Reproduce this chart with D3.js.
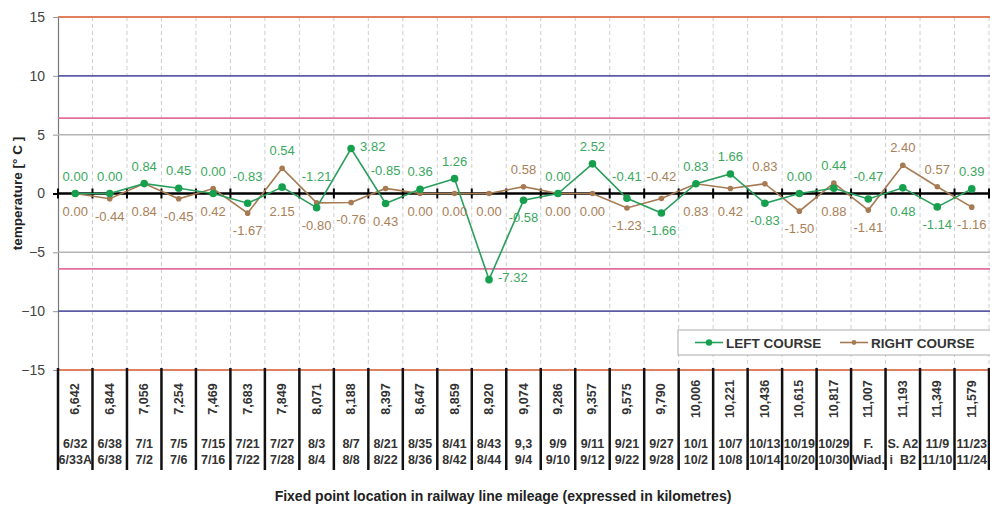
<!DOCTYPE html>
<html>
<head>
<meta charset="utf-8">
<script src="https://cdn.jsdelivr.net/npm/d3@7"></script>
<style>
  body { margin: 0; background: #fff; }
  svg { font-family: "Liberation Sans", Arial, sans-serif; display: block; }
</style>
</head>
<body>
<div id="chart"></div>
<script>
// fixed point mileage (km) and the point names below each one
const mileage = ["6,642", "6,844", "7,056", "7,254", "7,469", "7,683", "7,849", "8,071", "8,188",
    "8,397", "8,647", "8,859", "8,920", "9,074", "9,286", "9,357", "9,575", "9,790", "10,006",
    "10,221", "10,436", "10,615", "10,817", "11,007", "11,193", "11,349", "11,579"];
const pointTop = ["6/32", "6/38", "7/1", "7/5", "7/15", "7/21", "7/27", "8/3", "8/7", "8/21", "8/35",
    "8/41", "8/43", "9,3", "9/9", "9/11", "9/21", "9/27", "10/1", "10/7", "10/13", "10/19", "10/29",
    "F.", "S. A2", "11/9", "11/23"];
const pointBottom = ["6/33A", "6/38", "7/2", "7/6", "7/16", "7/22", "7/28", "8/4", "8/8", "8/22",
    "8/36", "8/42", "8/44", "9/4", "9/10", "9/12", "9/22", "9/28", "10/2", "10/8", "10/14", "10/20",
    "10/30", "Wiad.", "i  B2", "11/10", "11/24"];

// temperature differences [°C]
const leftCourse = [0.00, 0.00, 0.84, 0.45, 0.00, -0.83, 0.54, -1.21, 3.82, -0.85, 0.36, 1.26, -7.32,
    -0.58, 0.00, 2.52, -0.41, -1.66, 0.83, 1.66, -0.83, 0.00, 0.44, -0.47, 0.48, -1.14, 0.39];
const rightCourse = [0.00, -0.44, 0.84, -0.45, 0.42, -1.67, 2.15, -0.80, -0.76, 0.43, 0.00, 0.00, 0.00,
    0.58, 0.00, 0.00, -1.23, -0.42, 0.83, 0.42, 0.83, -1.50, 0.88, -1.41, 2.40, 0.57, -1.16];

// limit lines and y ticks
const limitLevels = [15, 10, 6.4, 5, -5, -6.4, -10, -15];
const yTicks = [15, 10, 5, 0, -5, -10, -15];

const W = 990, H = 511;
const plotLeft = 58, plotRight = 989, plotTop = 17, plotBottom = 370;
const tableBottom = 470;

const green = "#16a04e", greenText = "#3aa860";
const brown = "#a67a52", brownText = "#a98058";
const dark = "#333";

const svg = d3.select("#chart").append("svg")
    .attr("width", W)
    .attr("height", H);

const x = d3.scaleBand()
    .domain(mileage)
    .range([plotLeft, plotRight]);

const y = d3.scaleLinear()
    .domain([-15, 15])
    .range([plotBottom, plotTop]);

const cx = i => x(mileage[i]) + x.bandwidth() / 2;

// column boundaries
const bounds = mileage.map(k => x(k)).concat([plotRight]);

// dashed grid lines at column boundaries
svg.append("g").selectAll("line")
    .data(bounds.slice(1))
    .enter().append("line")
    .attr("x1", d => d).attr("x2", d => d)
    .attr("y1", plotTop).attr("y2", plotBottom)
    .attr("stroke", "#cfcfcf")
    .attr("stroke-dasharray", "4,3")
    .attr("stroke-width", 1);

// y axis
const yAxis = svg.append("g")
    .attr("transform", `translate(${plotLeft},0)`)
    .call(d3.axisLeft(y).tickValues(yTicks).tickSize(5).tickPadding(8));
yAxis.select(".domain").attr("stroke", "#777").attr("stroke-width", 1.2);
yAxis.selectAll(".tick line").attr("stroke", d => d === 0 ? "#000" : "#999").attr("stroke-width", d => d === 0 ? 2 : 1);
yAxis.selectAll(".tick text")
    .attr("fill", "#444")
    .style("font-size", "14px");

// limit lines
const limitColor = v => ({ 15: "#e0805e", 10: "#5c5ca6", 6.4: "#e0709e", 5: "#b4b4b4" })[Math.abs(v)];
svg.append("g").selectAll("line")
    .data(limitLevels)
    .enter().append("line")
    .attr("x1", plotLeft).attr("x2", W)
    .attr("y1", d => y(d)).attr("y2", d => y(d))
    .attr("stroke", limitColor)
    .attr("stroke-width", d => Math.abs(d) === 5 ? 1.5 : 1.8);

// zero line and its ticks
svg.append("line")
    .attr("x1", plotLeft).attr("x2", W)
    .attr("y1", y(0)).attr("y2", y(0))
    .attr("stroke", "#000")
    .attr("stroke-width", 2.5);
svg.append("g").selectAll("line")
    .data(bounds)
    .enter().append("line")
    .attr("x1", d => d).attr("x2", d => d)
    .attr("y1", y(0) - 5).attr("y2", y(0) + 5)
    .attr("stroke", "#000")
    .attr("stroke-width", 2);

// table under the plot
svg.append("g").selectAll("line")
    .data(bounds)
    .enter().append("line")
    .attr("x1", d => d).attr("x2", d => d)
    .attr("y1", y(-15) - 2).attr("y2", tableBottom)
    .attr("stroke", "#111")
    .attr("stroke-width", 2.5);

svg.append("g").selectAll("text")
    .data(mileage)
    .enter().append("text")
    .attr("transform", (d, i) => `translate(${cx(i) + 4},399) rotate(-90)`)
    .attr("text-anchor", "middle")
    .attr("fill", dark)
    .style("font-size", "12.5px")
    .style("font-weight", "bold")
    .text(d => d);

[pointTop, pointBottom].forEach((row, r) => {
    svg.append("g").selectAll("text")
        .data(row)
        .enter().append("text")
        .attr("x", (d, i) => cx(i))
        .attr("y", 448 + r * 16)
        .attr("text-anchor", "middle")
        .attr("fill", dark)
        .style("font-size", "12.5px")
        .style("font-weight", "bold")
        .style("white-space", "pre")
        .text(d => d);
});

// series
const line = d3.line()
    .x((d, i) => cx(i))
    .y(d => y(d));

svg.append("path")
    .datum(rightCourse)
    .attr("fill", "none")
    .attr("stroke", brown)
    .attr("stroke-width", 1.6)
    .attr("d", line);
svg.append("g").selectAll("circle")
    .data(rightCourse)
    .enter().append("circle")
    .attr("cx", (d, i) => cx(i))
    .attr("cy", d => y(d))
    .attr("r", 2.8)
    .attr("fill", brown);

svg.append("path")
    .datum(leftCourse)
    .attr("fill", "none")
    .attr("stroke", "#2a9e5c")
    .attr("stroke-width", 1.6)
    .attr("d", line);
svg.append("g").selectAll("circle")
    .data(leftCourse)
    .enter().append("circle")
    .attr("cx", (d, i) => cx(i))
    .attr("cy", d => y(d))
    .attr("r", 3.8)
    .attr("fill", green);

// value labels: green above / brown below, swapped in some columns
const swapped = [13, 17, 20, 24, 25];
const besidePoint = [8, 12];
const fmt = d => d.toFixed(2);

function labelY(i, above) {
    const ys = [y(rightCourse[i]), y(0)];
    if (!besidePoint.includes(i)) ys.push(y(leftCourse[i]));
    return above ? d3.min(ys) - 13 : d3.max(ys) + 22;
}

[[leftCourse, greenText, true], [rightCourse, brownText, false]].forEach(([vals, color, up]) => {
    svg.append("g").selectAll("text")
        .data(vals)
        .enter().append("text")
        .attr("x", (d, i) => besidePoint.includes(i) && up ? cx(i) + 9 : cx(i))
        .attr("y", (d, i) => {
            if (besidePoint.includes(i) && up) return y(d) + 2;
            const above = swapped.includes(i) ? !up : up;
            return labelY(i, above);
        })
        .attr("text-anchor", (d, i) => besidePoint.includes(i) && up ? "start" : "middle")
        .attr("fill", color)
        .style("font-size", "13px")
        .text(d => fmt(d));
});

// legend
const legend = svg.append("g").attr("transform", "translate(678,330)");
legend.append("rect")
    .attr("width", 320).attr("height", 25)
    .attr("fill", "#fff")
    .attr("stroke", "#aaa");
[["LEFT COURSE", "#2a9e5c", green, 3.2, 17], ["RIGHT COURSE", brown, brown, 2.4, 162]].forEach(([name, lc, mc, r, lx]) => {
    legend.append("line")
        .attr("x1", lx).attr("x2", lx + 28)
        .attr("y1", 12.5).attr("y2", 12.5)
        .attr("stroke", lc).attr("stroke-width", 1.6);
    legend.append("circle")
        .attr("cx", lx + 14).attr("cy", 12.5).attr("r", r).attr("fill", mc);
    legend.append("text")
        .attr("x", lx + 31).attr("y", 17.5)
        .attr("fill", dark)
        .style("font-size", "13.5px")
        .style("font-weight", "bold")
        .text(name);
});

// axis titles
svg.append("text")
    .attr("transform", `translate(22,${y(0)}) rotate(-90)`)
    .attr("text-anchor", "middle")
    .attr("fill", "#222")
    .style("font-size", "13.5px")
    .style("font-weight", "bold")
    .text("temperature [° C ]");

svg.append("text")
    .attr("x", 503).attr("y", 501)
    .attr("text-anchor", "middle")
    .attr("fill", "#222")
    .style("font-size", "14px")
    .style("font-weight", "bold")
    .text("Fixed point location in railway line mileage (expressed in kilometres)");
</script>
</body>
</html>
